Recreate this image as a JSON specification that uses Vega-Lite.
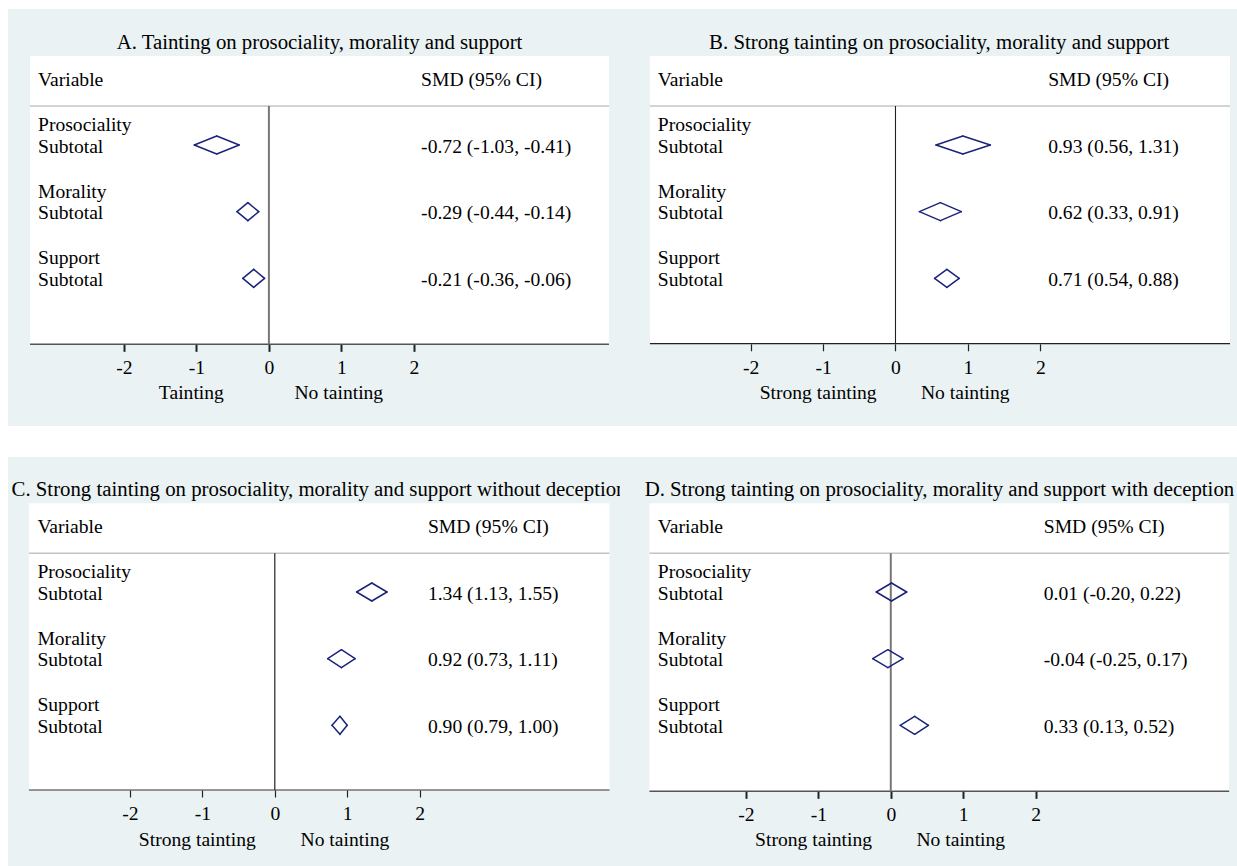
{
  "$schema": "https://vega.github.io/schema/vega-lite/v6.json",
  "background": "white",
  "padding": {"left": 8, "top": 9, "right": 0, "bottom": 0},
  "bounds": "flush",
  "columns": 2,
  "spacing": {"row": 31, "column": 0},
  "datasets": {
    "forest": [
      {"panel": "A", "row": 1, "group": "Prosociality", "est": -0.72, "lo": -1.03, "hi": -0.41, "ci": "-0.72 (-1.03, -0.41)"},
      {"panel": "A", "row": 2, "group": "Morality", "est": -0.29, "lo": -0.44, "hi": -0.14, "ci": "-0.29 (-0.44, -0.14)"},
      {"panel": "A", "row": 3, "group": "Support", "est": -0.21, "lo": -0.36, "hi": -0.06, "ci": "-0.21 (-0.36, -0.06)"},
      {"panel": "B", "row": 1, "group": "Prosociality", "est": 0.93, "lo": 0.56, "hi": 1.31, "ci": "0.93 (0.56, 1.31)"},
      {"panel": "B", "row": 2, "group": "Morality", "est": 0.62, "lo": 0.33, "hi": 0.91, "ci": "0.62 (0.33, 0.91)"},
      {"panel": "B", "row": 3, "group": "Support", "est": 0.71, "lo": 0.54, "hi": 0.88, "ci": "0.71 (0.54, 0.88)"},
      {"panel": "C", "row": 1, "group": "Prosociality", "est": 1.34, "lo": 1.13, "hi": 1.55, "ci": "1.34 (1.13, 1.55)"},
      {"panel": "C", "row": 2, "group": "Morality", "est": 0.92, "lo": 0.73, "hi": 1.11, "ci": "0.92 (0.73, 1.11)"},
      {"panel": "C", "row": 3, "group": "Support", "est": 0.90, "lo": 0.79, "hi": 1.00, "ci": "0.90 (0.79, 1.00)"},
      {"panel": "D", "row": 1, "group": "Prosociality", "est": 0.01, "lo": -0.20, "hi": 0.22, "ci": "0.01 (-0.20, 0.22)"},
      {"panel": "D", "row": 2, "group": "Morality", "est": -0.04, "lo": -0.25, "hi": 0.17, "ci": "-0.04 (-0.25, 0.17)"},
      {"panel": "D", "row": 3, "group": "Support", "est": 0.33, "lo": 0.13, "hi": 0.52, "ci": "0.33 (0.13, 0.52)"}
    ]
  },
  "concat": [
    {
      "width": 612, "height": 417,
      "title": {"text": "A. Tainting on prosociality, morality and support", "offset": -54.4, "baseline": "middle", "dx": 5.5, "frame": "group", "anchor": "middle"},
      "data": {"name": "forest"},
      "transform": [{"filter": "datum.panel === 'A'"}],
      "layer": [
        {"transform": [{"filter": "datum.row === 1"}], "mark": {"type": "rect", "fill": "white", "strokeWidth": 0},
         "encoding": {
           "x": {"datum": -3.297, "type": "quantitative", "scale": {"domain": [-3.601, 4.846], "nice": false, "zero": false},
                 "axis": {"values": [-2, -1, 0, 1, 2], "title": null, "offset": -81.65, "zindex": 1, "tickColor": "#222", "tickWidth": 2, "labelExpr": "datum.value < 0 ? '-' + abs(datum.value) : '' + datum.value"}},
           "x2": {"datum": 4.694},
           "y": {"datum": -0.335, "type": "quantitative", "scale": {"domain": [-1.04, 5.215], "reverse": true, "nice": false, "zero": false}, "axis": null},
           "y2": {"datum": 3.99}}},
        {"transform": [{"filter": "datum.row === 1"}], "mark": {"type": "rule", "color": "#c4c4c4", "strokeWidth": 1.5},
         "encoding": {"x": {"datum": -3.297, "type": "quantitative"}, "x2": {"datum": 4.694}, "y": {"datum": 0.415, "type": "quantitative", "axis": null}}},
        {"transform": [{"filter": "datum.row === 1"}], "mark": {"type": "rule", "color": "#555555", "strokeWidth": 1.5},
         "encoding": {"x": {"datum": -3.297, "type": "quantitative"}, "x2": {"datum": 4.694}, "y": {"datum": 3.99, "type": "quantitative", "axis": null}}},
        {"transform": [{"filter": "datum.row === 1"}], "mark": {"type": "rule", "color": "#777777", "strokeWidth": 2},
         "encoding": {"x": {"datum": 0, "type": "quantitative"}, "y": {"datum": 0.415, "type": "quantitative", "axis": null}, "y2": {"datum": 3.99}}},
        {"mark": {"type": "rule", "color": "#1c247a", "strokeWidth": 1.5, "strokeCap": "round", "y2Offset": -9},
         "encoding": {"x": {"field": "lo", "type": "quantitative"}, "x2": {"field": "est"}, "y": {"field": "row", "type": "quantitative", "axis": null}, "y2": {"field": "row"}}},
        {"mark": {"type": "rule", "color": "#1c247a", "strokeWidth": 1.5, "strokeCap": "round", "yOffset": -9},
         "encoding": {"x": {"field": "est", "type": "quantitative"}, "x2": {"field": "hi"}, "y": {"field": "row", "type": "quantitative", "axis": null}, "y2": {"field": "row"}}},
        {"mark": {"type": "rule", "color": "#1c247a", "strokeWidth": 1.5, "strokeCap": "round", "y2Offset": 9},
         "encoding": {"x": {"field": "hi", "type": "quantitative"}, "x2": {"field": "est"}, "y": {"field": "row", "type": "quantitative", "axis": null}, "y2": {"field": "row"}}},
        {"mark": {"type": "rule", "color": "#1c247a", "strokeWidth": 1.5, "strokeCap": "round", "yOffset": 9},
         "encoding": {"x": {"field": "est", "type": "quantitative"}, "x2": {"field": "lo"}, "y": {"field": "row", "type": "quantitative", "axis": null}, "y2": {"field": "row"}}},
        {"transform": [{"filter": "datum.row === 1"}], "mark": {"type": "text", "align": "left", "baseline": "middle", "text": "Variable"},
         "encoding": {"x": {"datum": -3.187, "type": "quantitative"}, "y": {"datum": 0.025, "type": "quantitative", "axis": null}}},
        {"transform": [{"filter": "datum.row === 1"}], "mark": {"type": "text", "align": "left", "baseline": "middle", "text": "SMD (95% CI)"},
         "encoding": {"x": {"datum": 2.101, "type": "quantitative"}, "y": {"datum": 0.025, "type": "quantitative", "axis": null}}},
        {"mark": {"type": "text", "align": "left", "baseline": "middle", "dy": -20},
         "encoding": {"x": {"datum": -3.187, "type": "quantitative"}, "y": {"field": "row", "type": "quantitative", "axis": null}, "text": {"field": "group"}}},
        {"mark": {"type": "text", "align": "left", "baseline": "middle", "dy": 1.7, "text": "Subtotal"},
         "encoding": {"x": {"datum": -3.187, "type": "quantitative"}, "y": {"field": "row", "type": "quantitative", "axis": null}}},
        {"mark": {"type": "text", "align": "left", "baseline": "middle", "dy": 1.7},
         "encoding": {"x": {"datum": 2.101, "type": "quantitative"}, "y": {"field": "row", "type": "quantitative", "axis": null}, "text": {"field": "ci"}}},
        {"transform": [{"filter": "datum.row === 1"}], "mark": {"type": "text", "align": "center", "baseline": "middle", "text": "Tainting"},
         "encoding": {"x": {"datum": -1.07, "type": "quantitative"}, "y": {"datum": 4.724, "type": "quantitative", "axis": null}}},
        {"transform": [{"filter": "datum.row === 1"}], "mark": {"type": "text", "align": "center", "baseline": "middle", "text": "No tainting"},
         "encoding": {"x": {"datum": 0.965, "type": "quantitative"}, "y": {"datum": 4.724, "type": "quantitative", "axis": null}}}
      ]
    },
    {
      "width": 617, "height": 417,
      "title": {"text": "B. Strong tainting on prosociality, morality and support", "offset": -54.4, "baseline": "middle", "dx": 10.7, "frame": "group", "anchor": "middle"},
      "data": {"name": "forest"},
      "transform": [{"filter": "datum.panel === 'B'"}],
      "layer": [
        {"transform": [{"filter": "datum.row === 1"}], "mark": {"type": "rect", "fill": "white", "strokeWidth": 0},
         "encoding": {
           "x": {"datum": -3.392, "type": "quantitative", "scale": {"domain": [-3.805, 4.717], "nice": false, "zero": false},
                 "axis": {"values": [-2, -1, 0, 1, 2], "title": null, "offset": -82.2, "zindex": 1, "tickColor": "#222", "tickWidth": 1.2, "labelExpr": "datum.value < 0 ? '-' + abs(datum.value) : '' + datum.value"}},
           "x2": {"datum": 4.620},
           "y": {"datum": -0.335, "type": "quantitative", "scale": {"domain": [-1.04, 5.215], "reverse": true, "nice": false, "zero": false}, "axis": null},
           "y2": {"datum": 3.98}}},
        {"transform": [{"filter": "datum.row === 1"}], "mark": {"type": "rule", "color": "#c4c4c4", "strokeWidth": 1.5},
         "encoding": {"x": {"datum": -3.392, "type": "quantitative"}, "x2": {"datum": 4.620}, "y": {"datum": 0.415, "type": "quantitative", "axis": null}}},
        {"transform": [{"filter": "datum.row === 1"}], "mark": {"type": "rule", "color": "#222222", "strokeWidth": 1.2},
         "encoding": {"x": {"datum": -3.392, "type": "quantitative"}, "x2": {"datum": 4.620}, "y": {"datum": 3.98, "type": "quantitative", "axis": null}}},
        {"transform": [{"filter": "datum.row === 1"}], "mark": {"type": "rule", "color": "#222222", "strokeWidth": 1.1},
         "encoding": {"x": {"datum": 0, "type": "quantitative"}, "y": {"datum": 0.415, "type": "quantitative", "axis": null}, "y2": {"datum": 3.98}}},
        {"mark": {"type": "rule", "color": "#1c247a", "strokeWidth": 1.5, "strokeCap": "round", "y2Offset": -9},
         "encoding": {"x": {"field": "lo", "type": "quantitative"}, "x2": {"field": "est"}, "y": {"field": "row", "type": "quantitative", "axis": null}, "y2": {"field": "row"}}},
        {"mark": {"type": "rule", "color": "#1c247a", "strokeWidth": 1.5, "strokeCap": "round", "yOffset": -9},
         "encoding": {"x": {"field": "est", "type": "quantitative"}, "x2": {"field": "hi"}, "y": {"field": "row", "type": "quantitative", "axis": null}, "y2": {"field": "row"}}},
        {"mark": {"type": "rule", "color": "#1c247a", "strokeWidth": 1.5, "strokeCap": "round", "y2Offset": 9},
         "encoding": {"x": {"field": "hi", "type": "quantitative"}, "x2": {"field": "est"}, "y": {"field": "row", "type": "quantitative", "axis": null}, "y2": {"field": "row"}}},
        {"mark": {"type": "rule", "color": "#1c247a", "strokeWidth": 1.5, "strokeCap": "round", "yOffset": 9},
         "encoding": {"x": {"field": "est", "type": "quantitative"}, "x2": {"field": "lo"}, "y": {"field": "row", "type": "quantitative", "axis": null}, "y2": {"field": "row"}}},
        {"transform": [{"filter": "datum.row === 1"}], "mark": {"type": "text", "align": "left", "baseline": "middle", "text": "Variable"},
         "encoding": {"x": {"datum": -3.283, "type": "quantitative"}, "y": {"datum": 0.025, "type": "quantitative", "axis": null}}},
        {"transform": [{"filter": "datum.row === 1"}], "mark": {"type": "text", "align": "left", "baseline": "middle", "text": "SMD (95% CI)"},
         "encoding": {"x": {"datum": 2.109, "type": "quantitative"}, "y": {"datum": 0.025, "type": "quantitative", "axis": null}}},
        {"mark": {"type": "text", "align": "left", "baseline": "middle", "dy": -20},
         "encoding": {"x": {"datum": -3.283, "type": "quantitative"}, "y": {"field": "row", "type": "quantitative", "axis": null}, "text": {"field": "group"}}},
        {"mark": {"type": "text", "align": "left", "baseline": "middle", "dy": 1.7, "text": "Subtotal"},
         "encoding": {"x": {"datum": -3.283, "type": "quantitative"}, "y": {"field": "row", "type": "quantitative", "axis": null}}},
        {"mark": {"type": "text", "align": "left", "baseline": "middle", "dy": 1.7},
         "encoding": {"x": {"datum": 2.109, "type": "quantitative"}, "y": {"field": "row", "type": "quantitative", "axis": null}, "text": {"field": "ci"}}},
        {"transform": [{"filter": "datum.row === 1"}], "mark": {"type": "text", "align": "center", "baseline": "middle", "text": "Strong tainting"},
         "encoding": {"x": {"datum": -1.068, "type": "quantitative"}, "y": {"datum": 4.724, "type": "quantitative", "axis": null}}},
        {"transform": [{"filter": "datum.row === 1"}], "mark": {"type": "text", "align": "center", "baseline": "middle", "text": "No tainting"},
         "encoding": {"x": {"datum": 0.964, "type": "quantitative"}, "y": {"datum": 4.724, "type": "quantitative", "axis": null}}}
      ]
    },
    {
      "width": 612, "height": 409,
      "title": {"text": "C. Strong tainting on prosociality, morality and support without deception", "offset": -53.6, "baseline": "middle", "dx": 5, "frame": "group", "anchor": "middle"},
      "data": {"name": "forest"},
      "transform": [{"filter": "datum.panel === 'C'"}],
      "layer": [
        {"transform": [{"filter": "datum.row === 1"}], "mark": {"type": "rect", "fill": "white", "strokeWidth": 0},
         "encoding": {
           "x": {"datum": -3.396, "type": "quantitative", "scale": {"domain": [-3.685, 4.768], "nice": false, "zero": false},
                 "axis": {"values": [-2, -1, 0, 1, 2], "title": null, "offset": -76.0, "zindex": 1, "tickColor": "#222", "tickWidth": 1.2, "labelExpr": "datum.value < 0 ? '-' + abs(datum.value) : '' + datum.value"}},
           "x2": {"datum": 4.623},
           "y": {"datum": -0.33, "type": "quantitative", "scale": {"domain": [-1.025, 5.11], "reverse": true, "nice": false, "zero": false}, "axis": null},
           "y2": {"datum": 3.97}}},
        {"transform": [{"filter": "datum.row === 1"}], "mark": {"type": "rule", "color": "#c4c4c4", "strokeWidth": 1.5},
         "encoding": {"x": {"datum": -3.396, "type": "quantitative"}, "x2": {"datum": 4.623}, "y": {"datum": 0.419, "type": "quantitative", "axis": null}}},
        {"transform": [{"filter": "datum.row === 1"}], "mark": {"type": "rule", "color": "#333333", "strokeWidth": 1.2},
         "encoding": {"x": {"datum": -3.396, "type": "quantitative"}, "x2": {"datum": 4.623}, "y": {"datum": 3.97, "type": "quantitative", "axis": null}}},
        {"transform": [{"filter": "datum.row === 1"}], "mark": {"type": "rule", "color": "#222222", "strokeWidth": 1.2},
         "encoding": {"x": {"datum": 0, "type": "quantitative"}, "y": {"datum": 0.419, "type": "quantitative", "axis": null}, "y2": {"datum": 3.97}}},
        {"mark": {"type": "rule", "color": "#1c247a", "strokeWidth": 1.5, "strokeCap": "round", "y2Offset": -9},
         "encoding": {"x": {"field": "lo", "type": "quantitative"}, "x2": {"field": "est"}, "y": {"field": "row", "type": "quantitative", "axis": null}, "y2": {"field": "row"}}},
        {"mark": {"type": "rule", "color": "#1c247a", "strokeWidth": 1.5, "strokeCap": "round", "yOffset": -9},
         "encoding": {"x": {"field": "est", "type": "quantitative"}, "x2": {"field": "hi"}, "y": {"field": "row", "type": "quantitative", "axis": null}, "y2": {"field": "row"}}},
        {"mark": {"type": "rule", "color": "#1c247a", "strokeWidth": 1.5, "strokeCap": "round", "y2Offset": 9},
         "encoding": {"x": {"field": "hi", "type": "quantitative"}, "x2": {"field": "est"}, "y": {"field": "row", "type": "quantitative", "axis": null}, "y2": {"field": "row"}}},
        {"mark": {"type": "rule", "color": "#1c247a", "strokeWidth": 1.5, "strokeCap": "round", "yOffset": 9},
         "encoding": {"x": {"field": "est", "type": "quantitative"}, "x2": {"field": "lo"}, "y": {"field": "row", "type": "quantitative", "axis": null}, "y2": {"field": "row"}}},
        {"transform": [{"filter": "datum.row === 1"}], "mark": {"type": "text", "align": "left", "baseline": "middle", "text": "Variable"},
         "encoding": {"x": {"datum": -3.279, "type": "quantitative"}, "y": {"datum": 0.03, "type": "quantitative", "axis": null}}},
        {"transform": [{"filter": "datum.row === 1"}], "mark": {"type": "text", "align": "left", "baseline": "middle", "text": "SMD (95% CI)"},
         "encoding": {"x": {"datum": 2.115, "type": "quantitative"}, "y": {"datum": 0.03, "type": "quantitative", "axis": null}}},
        {"mark": {"type": "text", "align": "left", "baseline": "middle", "dy": -20},
         "encoding": {"x": {"datum": -3.279, "type": "quantitative"}, "y": {"field": "row", "type": "quantitative", "axis": null}, "text": {"field": "group"}}},
        {"mark": {"type": "text", "align": "left", "baseline": "middle", "dy": 1.7, "text": "Subtotal"},
         "encoding": {"x": {"datum": -3.279, "type": "quantitative"}, "y": {"field": "row", "type": "quantitative", "axis": null}}},
        {"mark": {"type": "text", "align": "left", "baseline": "middle", "dy": 1.7},
         "encoding": {"x": {"datum": 2.115, "type": "quantitative"}, "y": {"field": "row", "type": "quantitative", "axis": null}, "text": {"field": "ci"}}},
        {"transform": [{"filter": "datum.row === 1"}], "mark": {"type": "text", "align": "center", "baseline": "middle", "text": "Strong tainting"},
         "encoding": {"x": {"datum": -1.07, "type": "quantitative"}, "y": {"datum": 4.72, "type": "quantitative", "axis": null}}},
        {"transform": [{"filter": "datum.row === 1"}], "mark": {"type": "text", "align": "center", "baseline": "middle", "text": "No tainting"},
         "encoding": {"x": {"datum": 0.968, "type": "quantitative"}, "y": {"datum": 4.72, "type": "quantitative", "axis": null}}}
      ]
    },
    {
      "width": 617, "height": 409,
      "title": {"text": "D. Strong tainting on prosociality, morality and support with deception", "offset": -53.6, "baseline": "middle", "dx": 10.9, "frame": "group", "anchor": "middle"},
      "data": {"name": "forest"},
      "transform": [{"filter": "datum.panel === 'D'"}],
      "layer": [
        {"transform": [{"filter": "datum.row === 1"}], "mark": {"type": "rect", "fill": "white", "strokeWidth": 0},
         "encoding": {
           "x": {"datum": -3.333, "type": "quantitative", "scale": {"domain": [-3.740, 4.782], "nice": false, "zero": false},
                 "axis": {"values": [-2, -1, 0, 1, 2], "title": null, "offset": -74.65, "zindex": 1, "tickColor": "#222", "tickWidth": 2, "labelExpr": "datum.value < 0 ? '-' + abs(datum.value) : '' + datum.value"}},
           "x2": {"datum": 4.674},
           "y": {"datum": -0.33, "type": "quantitative", "scale": {"domain": [-1.025, 5.11], "reverse": true, "nice": false, "zero": false}, "axis": null},
           "y2": {"datum": 3.99}}},
        {"transform": [{"filter": "datum.row === 1"}], "mark": {"type": "rule", "color": "#c4c4c4", "strokeWidth": 1.5},
         "encoding": {"x": {"datum": -3.333, "type": "quantitative"}, "x2": {"datum": 4.674}, "y": {"datum": 0.419, "type": "quantitative", "axis": null}}},
        {"transform": [{"filter": "datum.row === 1"}], "mark": {"type": "rule", "color": "#555555", "strokeWidth": 1.5},
         "encoding": {"x": {"datum": -3.333, "type": "quantitative"}, "x2": {"datum": 4.674}, "y": {"datum": 3.99, "type": "quantitative", "axis": null}}},
        {"transform": [{"filter": "datum.row === 1"}], "mark": {"type": "rule", "color": "#777777", "strokeWidth": 2},
         "encoding": {"x": {"datum": 0, "type": "quantitative"}, "y": {"datum": 0.419, "type": "quantitative", "axis": null}, "y2": {"datum": 3.99}}},
        {"mark": {"type": "rule", "color": "#1c247a", "strokeWidth": 1.5, "strokeCap": "round", "y2Offset": -9},
         "encoding": {"x": {"field": "lo", "type": "quantitative"}, "x2": {"field": "est"}, "y": {"field": "row", "type": "quantitative", "axis": null}, "y2": {"field": "row"}}},
        {"mark": {"type": "rule", "color": "#1c247a", "strokeWidth": 1.5, "strokeCap": "round", "yOffset": -9},
         "encoding": {"x": {"field": "est", "type": "quantitative"}, "x2": {"field": "hi"}, "y": {"field": "row", "type": "quantitative", "axis": null}, "y2": {"field": "row"}}},
        {"mark": {"type": "rule", "color": "#1c247a", "strokeWidth": 1.5, "strokeCap": "round", "y2Offset": 9},
         "encoding": {"x": {"field": "hi", "type": "quantitative"}, "x2": {"field": "est"}, "y": {"field": "row", "type": "quantitative", "axis": null}, "y2": {"field": "row"}}},
        {"mark": {"type": "rule", "color": "#1c247a", "strokeWidth": 1.5, "strokeCap": "round", "yOffset": 9},
         "encoding": {"x": {"field": "est", "type": "quantitative"}, "x2": {"field": "lo"}, "y": {"field": "row", "type": "quantitative", "axis": null}, "y2": {"field": "row"}}},
        {"transform": [{"filter": "datum.row === 1"}], "mark": {"type": "text", "align": "left", "baseline": "middle", "text": "Variable"},
         "encoding": {"x": {"datum": -3.218, "type": "quantitative"}, "y": {"datum": 0.03, "type": "quantitative", "axis": null}}},
        {"transform": [{"filter": "datum.row === 1"}], "mark": {"type": "text", "align": "left", "baseline": "middle", "text": "SMD (95% CI)"},
         "encoding": {"x": {"datum": 2.113, "type": "quantitative"}, "y": {"datum": 0.03, "type": "quantitative", "axis": null}}},
        {"mark": {"type": "text", "align": "left", "baseline": "middle", "dy": -20},
         "encoding": {"x": {"datum": -3.218, "type": "quantitative"}, "y": {"field": "row", "type": "quantitative", "axis": null}, "text": {"field": "group"}}},
        {"mark": {"type": "text", "align": "left", "baseline": "middle", "dy": 1.7, "text": "Subtotal"},
         "encoding": {"x": {"datum": -3.218, "type": "quantitative"}, "y": {"field": "row", "type": "quantitative", "axis": null}}},
        {"mark": {"type": "text", "align": "left", "baseline": "middle", "dy": 1.7},
         "encoding": {"x": {"datum": 2.113, "type": "quantitative"}, "y": {"field": "row", "type": "quantitative", "axis": null}, "text": {"field": "ci"}}},
        {"transform": [{"filter": "datum.row === 1"}], "mark": {"type": "text", "align": "center", "baseline": "middle", "text": "Strong tainting"},
         "encoding": {"x": {"datum": -1.066, "type": "quantitative"}, "y": {"datum": 4.72, "type": "quantitative", "axis": null}}},
        {"transform": [{"filter": "datum.row === 1"}], "mark": {"type": "text", "align": "center", "baseline": "middle", "text": "No tainting"},
         "encoding": {"x": {"datum": 0.967, "type": "quantitative"}, "y": {"datum": 4.72, "type": "quantitative", "axis": null}}}
      ]
    }
  ],
  "config": {
    "view": {"fill": "#eaf2f3", "stroke": null},
    "text": {"font": "Liberation Serif", "fontSize": 19.6, "color": "black"},
    "title": {"font": "Liberation Serif", "fontSize": 20.8, "fontWeight": "normal", "color": "black"},
    "axis": {"labelFont": "Liberation Serif", "labelFontSize": 19.6, "labelColor": "black", "grid": false, "domain": false, "tickSize": 7, "labelPadding": 7.5, "labelFlush": false, "labelOverlap": false}
  }
}
